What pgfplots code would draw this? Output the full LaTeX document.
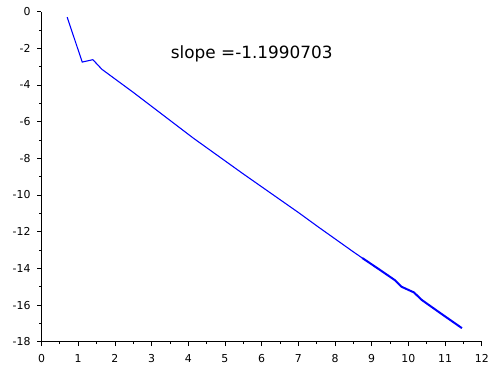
\documentclass[border=0pt]{standalone}
\usepackage{pgfplots}
\pgfplotsset{compat=1.18}
\usepackage{fontspec}
\setmainfont{DejaVu Sans}
\begin{document}
\begin{tikzpicture}
\begin{axis}[
  scale only axis,
  width=442.3bp, height=331.6bp,
  xmin=0, xmax=12, ymin=-18, ymax=0,
  axis lines=left,
  axis line style={-, black, line width=0.7pt},
  xtick={0,1,...,12}, ytick={-18,-16,...,0},
  minor x tick num=1, minor y tick num=1,
  tick align=outside,
  major tick length=4.5bp, minor tick length=2.5bp,
  tick style={black, line width=0.7pt},
  tick label style={font=\fontsize{11}{12}\selectfont},
  xticklabel style={yshift=-5bp},
  yticklabel style={xshift=-3bp},
  /pgf/number format/assume math mode=true,
  clip=false,
]
\path (axis cs:-1.131,0.635) rectangle (axis cs:12.216,-19.45);
\addplot[blue, line width=1.1pt] coordinates {
(0.70,-0.30) (1.11,-2.75) (1.40,-2.62) (1.65,-3.15) (2.5,-4.40) (3.3,-5.62) (4.14,-6.90) (5.5,-8.85) (7.0,-10.95) (7.55,-11.75) (8.5,-13.10) (8.74,-13.43)
};
\addplot[blue, line width=2pt] coordinates {
(8.74,-13.43) (9.2,-14.05) (9.63,-14.64) (9.81,-15.00) (10.15,-15.31) (10.37,-15.73) (10.9,-16.48) (11.46,-17.26)
};
\node[font=\fontsize{17}{20}\selectfont] at (axis cs:5.73,-2.3) {slope =-1.1990703};
\end{axis}
\end{tikzpicture}
\end{document}
